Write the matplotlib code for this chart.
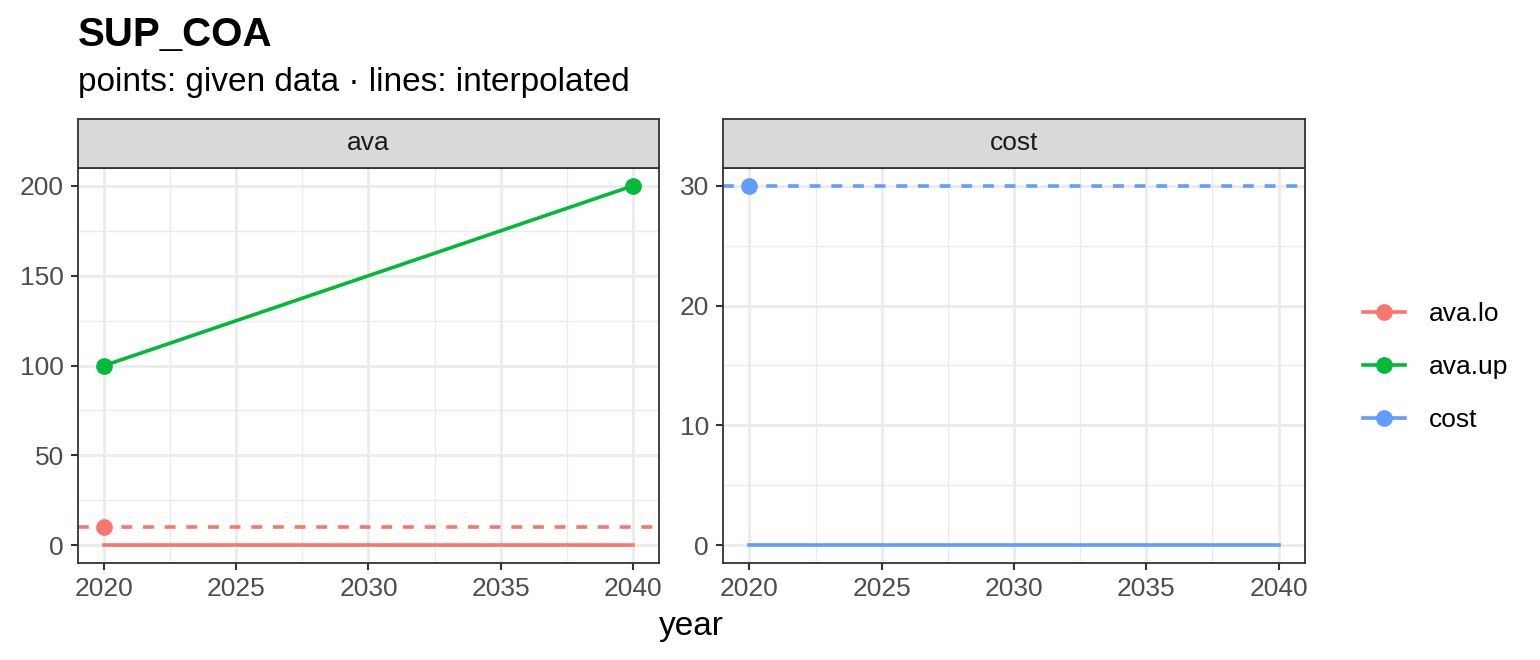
import matplotlib
matplotlib.use('Agg')
import matplotlib.pyplot as plt
from matplotlib.lines import Line2D

plt.rcParams['font.family'] = ['Liberation Sans', 'DejaVu Sans']

# given data points
lo_years = [2020]
lo_vals = [10]
up_years = [2020, 2040]
up_vals = [100, 200]
cost_years = [2020]
cost_vals = [30]

# interpolated lines
interp_years = [2020, 2040]
lo_interp = [0, 0]
up_interp = [100, 200]
cost_interp = [0, 0]

# dashed reference levels
lo_ref = 10
cost_ref = 30

series_names = ['ava.lo', 'ava.up', 'cost']
colors = {'ava.lo': '#F8766D', 'ava.up': '#00BA38', 'cost': '#619CFF'}

W, H = 1540, 660
fig = plt.figure(figsize=(W / 100, H / 100), dpi=100)

tick_fs = 19
grid_major = '#EBEBEB'
dark = '#333333'


def style_panel(ax, yticks, yminor, ylim, strip_label):
    ax.set_xlim(2019, 2041)
    ax.set_ylim(*ylim)
    ax.set_xticks([2020, 2025, 2030, 2035, 2040])
    ax.set_xticks([2022.5, 2027.5, 2032.5, 2037.5], minor=True)
    ax.set_yticks(yticks)
    ax.set_yticks(yminor, minor=True)
    ax.grid(which='major', color=grid_major, lw=2.0, zorder=0)
    ax.grid(which='minor', color=grid_major, lw=1.0, zorder=0)
    ax.set_axisbelow(True)
    ax.tick_params(which='major', length=5, width=1.5, color=dark,
                   labelsize=tick_fs, labelcolor='#4D4D4D', pad=5)
    ax.tick_params(which='minor', length=0)
    for s in ax.spines.values():
        s.set_color(dark)
        s.set_linewidth(1.3)
    # strip
    pos = ax.get_position()
    sax = fig.add_axes([pos.x0, pos.y1, pos.width, 49 / H])
    sax.set_xticks([])
    sax.set_yticks([])
    sax.set_facecolor('#D9D9D9')
    for s in sax.spines.values():
        s.set_color(dark)
        s.set_linewidth(1.3)
    sax.text(0.5, 0.5, strip_label, ha='center', va='center',
             fontsize=tick_fs, color='#1A1A1A', transform=sax.transAxes)


bottom = 1 - 563 / H
height = (563 - 168) / H
ax1 = fig.add_axes([78 / W, bottom, (659 - 78) / W, height])
ax2 = fig.add_axes([723 / W, bottom, (1305 - 723) / W, height])

lw = 2.6
ms = 11
dash = (0, (3, 3))

# ava panel
ax1.axhline(lo_ref, color=colors['ava.lo'], lw=lw, ls=dash, zorder=2)
ax1.plot(interp_years, lo_interp, color=colors['ava.lo'], lw=lw, zorder=2)
ax1.plot(interp_years, up_interp, color=colors['ava.up'], lw=lw, zorder=2)
ax1.plot(lo_years, lo_vals, 'o', color=colors['ava.lo'], ms=ms, zorder=3)
ax1.plot(up_years, up_vals, 'o', color=colors['ava.up'], ms=ms, zorder=3)
style_panel(ax1, [0, 50, 100, 150, 200], [25, 75, 125, 175], (-10, 210), 'ava')

# cost panel
ax2.axhline(cost_ref, color=colors['cost'], lw=lw, ls=dash, zorder=2)
ax2.plot(interp_years, cost_interp, color=colors['cost'], lw=lw, zorder=2)
ax2.plot(cost_years, cost_vals, 'o', color=colors['cost'], ms=ms, zorder=3)
style_panel(ax2, [0, 10, 20, 30], [5, 15, 25], (-1.5, 31.5), 'cost')

# titles
fig.text(78 / W, 1 - 35 / H, 'SUP_COA', fontsize=29, fontweight='bold',
         ha='left', va='center')
fig.text(78 / W, 1 - 82 / H, 'points: given data \u00b7 lines: interpolated',
         fontsize=24, ha='left', va='center')
fig.text(691 / W, 1 - 627 / H, 'year', fontsize=24, ha='center', va='center')

# legend
handles = [Line2D([0], [0], color=colors[n], lw=lw, marker='o', ms=ms) for n in series_names]
fig.legend(handles, series_names, loc='center left',
           bbox_to_anchor=(1352 / W, 1 - 367 / H), frameon=False,
           fontsize=tick_fs, handlelength=1.6, labelspacing=1.1,
           handletextpad=0.9, borderaxespad=0)

fig.savefig('out.png', dpi=100)
